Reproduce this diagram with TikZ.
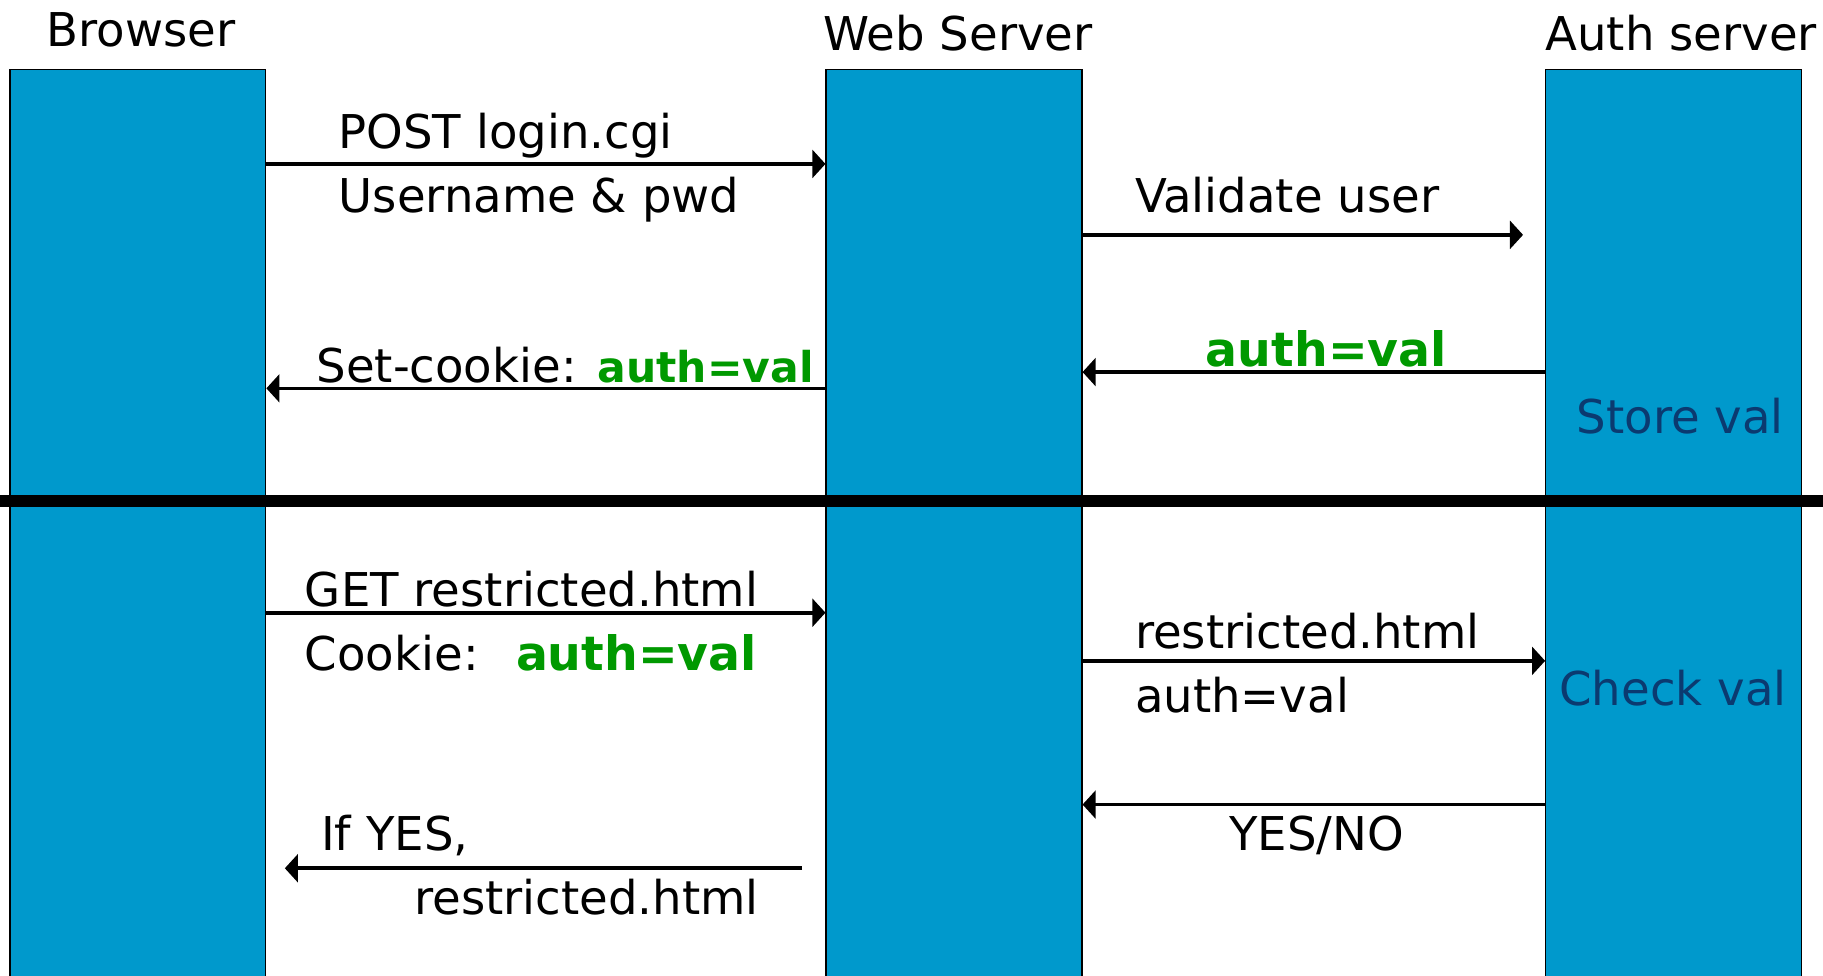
\documentclass[tikz,border=0pt]{standalone}
\usepackage{fontspec}
\setmainfont{DejaVu Sans}
\usepackage{xcolor}
\usepackage{tikz}
\usetikzlibrary{arrows.meta}
\definecolor{lane}{HTML}{0099CC}
\definecolor{cookie}{HTML}{009900}
\definecolor{note}{HTML}{0B3A70}
\newcommand{\authval}[1]{\textcolor{cookie}{\fontsize{#1}{#1}\selectfont\bfseries auth=val}}

\begin{document}
\begin{tikzpicture}[
  lifeline/.style={rectangle, draw=black, line width=0.8pt, fill=lane, minimum width=5.5cm, minimum height=19.8cm, anchor=north west, inner sep=0},
  head/.style={anchor=base west, inner sep=0, font=\fontsize{28.5}{34}\selectfont},
  msg/.style={anchor=base west, inner sep=0, font=\fontsize{28.5}{34}\selectfont},
  memo/.style={msg, text=note},
  arrow/.style={-{Triangle[length=8pt, width=17pt]}, line width=2.2pt}
]
  \useasboundingbox (0,0) rectangle (39.2,-20.975);

  \node[lifeline] (browser) at (0.2, -1.475) {};
  \node[lifeline] (web) at (17.75, -1.475) {};
  \node[lifeline] (auth) at (33.225, -1.475) {};

  \node[head] (hbrowser) at (1.0, -1.0) {Browser};
  \node[head] (hweb) at (17.7, -1.09) {Web Server};
  \node[head] (hauth) at (33.225, -1.09) {Auth server};

  % login phase
  \coordinate (m1) at (0, -3.525);
  \coordinate (m2) at (32.75, -5.05);
  \coordinate (m3) at (0, -8.0);
  \coordinate (m4) at (0, -8.35);
  \draw[arrow] (browser.east |- m1) -- (web.west |- m1);
  \draw[arrow] (web.east |- m2) -- (m2);
  \draw[arrow] (auth.west |- m3) -- (web.east |- m3);
  \draw[arrow] (web.west |- m4) -- (browser.east |- m4);

  \node[msg] (post) at (7.275, -3.2) {POST login.cgi};
  \node[msg] (cred) at (7.275, -4.56) {Username \& pwd};
  \node[msg] (validate) at (24.4, -4.565) {Validate user};
  \node[msg] (token) at (25.925, -7.89) {\authval{29}};
  \node[msg] (setck) at (6.8, -8.23) {Set-cookie:\hspace{0.45em}\authval{26}};
  \node[memo] (store) at (33.9, -9.32) {Store val};

  \coordinate (divl) at (0, -10.77);
  \coordinate (divr) at (39.2, -10.77);
  \draw[line width=7pt] (divl) -- (divr);

  % later request
  \coordinate (m5) at (0, -13.175);
  \coordinate (m6) at (0, -14.21);
  \coordinate (m7) at (0, -17.3);
  \coordinate (m8s) at (17.25, -18.67);
  \coordinate (m8e) at (6.125, -18.67);
  \draw[arrow] (browser.east |- m5) -- (web.west |- m5);
  \draw[arrow] (web.east |- m6) -- (auth.west |- m6);
  \draw[arrow] (auth.west |- m7) -- (web.east |- m7);
  \draw[arrow] (m8s) -- (m8e);

  \node[msg] (get) at (6.55, -13.045) {GET restricted.html};
  \node[msg] (sendck) at (6.55, -14.41) {Cookie:\hspace{0.8em}\authval{29}};
  \node[msg] (fwd) at (24.4, -13.94) {restricted.html};
  \node[msg] (fwdck) at (24.4, -15.32) {auth=val};
  \node[memo] (check) at (33.525, -15.18) {Check val};
  \node[msg] (answer) at (26.425, -18.28) {YES/NO};
  \node[msg] (ifyes) at (6.9, -18.28) {If YES,};
  \node[msg] (page) at (8.9, -19.66) {restricted.html};
\end{tikzpicture}
\end{document}
